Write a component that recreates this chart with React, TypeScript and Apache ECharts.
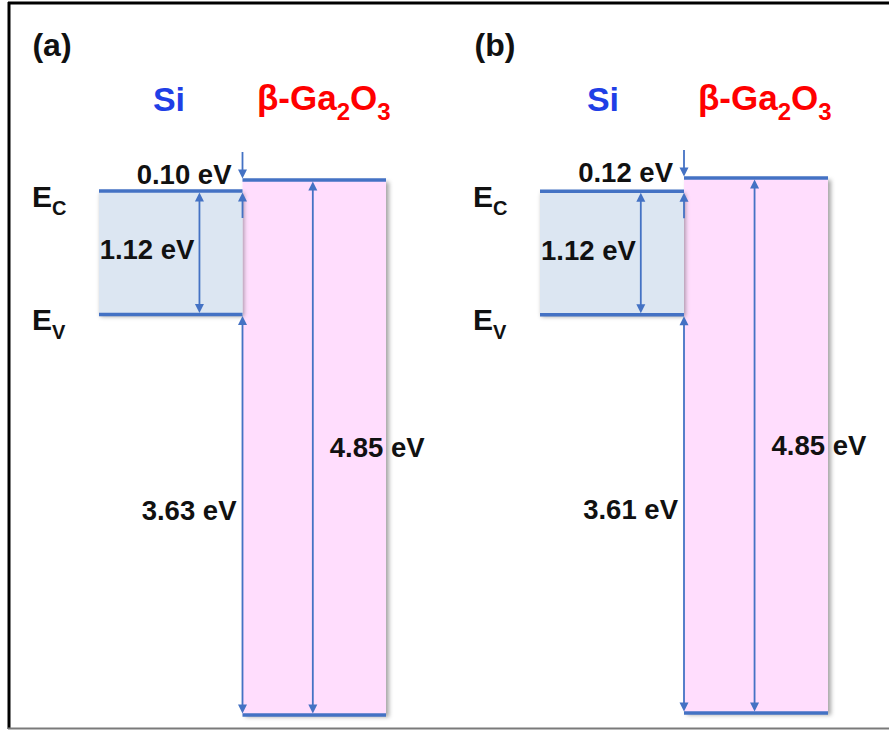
import React, { useEffect, useRef } from 'react';
import * as echarts from 'echarts';

// ---- data (eV) ----
const panelLabels = ['(a)', '(b)'];
const materialNames = ['Si', 'β-Ga2O3'];
const siBandGap = [1.12, 1.12];
const ga2o3BandGap = [4.85, 4.85];
const conductionOffset = [0.1, 0.12];
const valenceOffset = [3.63, 3.61];

// ---- layout (pixels) ----
const FONT = "'Liberation Sans', Arial, Helvetica, sans-serif";
const BLUE_LINE = '#4472C4';
const FILLS = ['#DCE6F2', '#FFDDFD'];
const GRID_H = 573.6;
const Y_MIN = -4.9;
const Y_MAX = 0.3;
const LAYOUT = [
  { left: 99, width: 287, top: 146.9, tagX: 52, siX: 169, gaX: 257 },
  { left: 540, width: 288, top: 144.9, tagX: 495, siX: 603, gaX: 698 },
];
const X_SI_GAP = 0.7;
const X_INTERFACE = 1;
const X_GA_GAP = 1.49;
const LABEL_SIZE = 27.5;

const fmt = (v: number) => `${v.toFixed(2)} eV`;

function arrowHead(tx: number, ty: number, dir: number) {
  // dir: +1 pointing down, -1 pointing up
  return {
    type: 'polygon',
    shape: { points: [[tx, ty], [tx - 4.5, ty - dir * 9], [tx + 4.5, ty - dir * 9]] },
    style: { fill: BLUE_LINE },
  };
}

function labelText(text: string, x: number, y: number, align: string) {
  return {
    type: 'text',
    style: {
      text,
      x,
      y,
      align,
      verticalAlign: 'middle',
      fontSize: LABEL_SIZE,
      fontWeight: 'bold',
      fontFamily: FONT,
      fill: '#111111',
    },
  };
}

function buildPanelSeries(p: number) {
  const siEc = -conductionOffset[p];
  const siEv = siEc - siBandGap[p];
  const gaEc = 0;
  const gaEv = -ga2o3BandGap[p];

  const boxes = [
    [1, 2, gaEc, gaEv, 1],
    [0, 1, siEc, siEv, 0],
  ];

  const boxSeries = {
    type: 'custom',
    xAxisIndex: p,
    yAxisIndex: p,
    data: boxes,
    silent: true,
    renderItem: (params: any, api: any) => {
      const [x0, y0] = api.coord([api.value(0), api.value(2)]);
      const [x1, y1] = api.coord([api.value(1), api.value(3)]);
      const mat = api.value(4);
      const children: any[] = [
        {
          type: 'rect',
          shape: { x: x0, y: y0, width: x1 - x0, height: y1 - y0 },
          style: {
            fill: FILLS[mat],
            shadowBlur: 4,
            shadowOffsetX: mat === 1 ? 3 : 1.5,
            shadowOffsetY: 2,
            shadowColor: 'rgba(0,0,0,0.35)',
          },
        },
        { type: 'line', shape: { x1: x0, y1: y0, x2: x1, y2: y0 }, style: { stroke: BLUE_LINE, lineWidth: 3.5 } },
        { type: 'line', shape: { x1: x0, y1: y1, x2: x1, y2: y1 }, style: { stroke: BLUE_LINE, lineWidth: 3.5 } },
      ];
      if (mat === 0) {
        const rich = {
          m: { fontSize: 30, fontWeight: 'bold', fontFamily: FONT, fill: '#111111', lineHeight: 32, verticalAlign: 'top' },
          s: { fontSize: 20, fontWeight: 'bold', fontFamily: FONT, fill: '#111111', lineHeight: 20, padding: [17, 0, 0, 0], verticalAlign: 'top' },
        };
        children.push({
          type: 'text',
          style: { text: '{m|E}{s|C}', rich, x: x0 - 67, y: y0 - 10, align: 'left', verticalAlign: 'top' },
        });
        children.push({
          type: 'text',
          style: { text: '{m|E}{s|V}', rich, x: x0 - 67, y: y1 - 10, align: 'left', verticalAlign: 'top' },
        });
      }
      return { type: 'group', children };
    },
  };

  const arrows = [
    { value: [X_SI_GAP, siEc, siEv], v: siBandGap[p], kind: 'gapLeft' },
    { value: [X_INTERFACE, siEv, gaEv], v: valenceOffset[p], kind: 'offsetV' },
    { value: [X_GA_GAP, gaEc, gaEv], v: ga2o3BandGap[p], kind: 'gapRight' },
    { value: [X_INTERFACE, gaEc, siEc], v: conductionOffset[p], kind: 'offsetC' },
  ];

  const arrowSeries = {
    type: 'custom',
    xAxisIndex: p,
    yAxisIndex: p,
    silent: true,
    data: arrows.map((a) => a.value),
    renderItem: (params: any, api: any) => {
      const spec = arrows[params.dataIndex];
      const [px, yA] = api.coord([api.value(0), api.value(1)]);
      const [, yB] = api.coord([api.value(0), api.value(2)]);
      const children: any[] = [];
      const lineStyle = { stroke: BLUE_LINE, lineWidth: 1.8 };
      if (spec.kind === 'offsetC') {
        const tipTop = yA - 1.5;
        children.push({ type: 'line', shape: { x1: px, y1: yA - 28, x2: px, y2: tipTop - 8 }, style: lineStyle });
        children.push(arrowHead(px, tipTop, 1));
        const tipBot = yB + 1.5;
        children.push({ type: 'line', shape: { x1: px, y1: yB + 27, x2: px, y2: tipBot + 8 }, style: lineStyle });
        children.push(arrowHead(px, tipBot, -1));
        children.push(labelText(fmt(spec.v), px - 11, yA - 5, 'right'));
      } else {
        const top = yA + 1.5;
        const bot = yB - 1.5;
        children.push({ type: 'line', shape: { x1: px, y1: top + 8, x2: px, y2: bot - 8 }, style: lineStyle });
        children.push(arrowHead(px, top, -1));
        children.push(arrowHead(px, bot, 1));
        const mid = (yA + yB) / 2;
        if (spec.kind === 'gapLeft') children.push(labelText(fmt(spec.v), px - 5, mid - 3, 'right'));
        else if (spec.kind === 'offsetV') children.push(labelText(fmt(spec.v), px - 6, mid - 4, 'right'));
        else children.push(labelText(fmt(spec.v), px + 17, mid, 'left'));
      }
      return { type: 'group', children };
    },
  };

  return [boxSeries, arrowSeries];
}

function buildGraphic() {
  const els: any[] = [
    { type: 'line', shape: { x1: 8, y1: 3, x2: 889, y2: 3 }, style: { stroke: '#000000', lineWidth: 3 } },
    { type: 'line', shape: { x1: 9, y1: 2, x2: 9, y2: 729 }, style: { stroke: '#000000', lineWidth: 3 } },
    { type: 'line', shape: { x1: 8, y1: 728.5, x2: 889, y2: 728.5 }, style: { stroke: '#7a7a7a', lineWidth: 2 } },
  ];
  LAYOUT.forEach((l, p) => {
    els.push({
      type: 'text',
      x: l.tagX,
      y: 45,
      style: {
        text: panelLabels[p],
        fontSize: 32,
        fontWeight: 'bold',
        fontFamily: FONT,
        fill: '#111111',
        align: 'center',
        verticalAlign: 'middle',
      },
    });
    els.push({
      type: 'text',
      x: l.siX,
      y: 99,
      style: {
        text: materialNames[0],
        fontSize: 34,
        fontWeight: 'bold',
        fontFamily: FONT,
        fill: '#1F3FE6',
        align: 'center',
        verticalAlign: 'middle',
      },
    });
    const parts = materialNames[1].split(/(\d)/).filter((s) => s.length);
    const richText = parts.map((s) => (/^\d$/.test(s) ? `{s|${s}}` : `{b|${s}}`)).join('');
    els.push({
      type: 'text',
      x: l.gaX,
      y: 80,
      style: {
        text: richText,
        align: 'left',
        verticalAlign: 'top',
        rich: {
          b: { fontSize: 35, fontWeight: 'bold', fontFamily: FONT, fill: '#FF0000', lineHeight: 38, verticalAlign: 'top' },
          s: { fontSize: 24, fontWeight: 'bold', fontFamily: FONT, fill: '#FF0000', lineHeight: 24, padding: [19, 0, 0, 0], verticalAlign: 'top' },
        },
      },
    });
  });
  return els;
}

export default function App() {
  const ref = useRef<HTMLDivElement>(null);
  useEffect(() => {
    if (!ref.current) return;
    const chart = echarts.init(ref.current, undefined, { renderer: 'svg' });
    const option: any = {
      animation: false,
      backgroundColor: '#ffffff',
      grid: LAYOUT.map((l) => ({ left: l.left, top: l.top, width: l.width, height: GRID_H })),
      xAxis: LAYOUT.map((_, i) => ({ type: 'value', gridIndex: i, min: 0, max: 2, show: false })),
      yAxis: LAYOUT.map((_, i) => ({ type: 'value', gridIndex: i, min: Y_MIN, max: Y_MAX, show: false })),
      series: [...buildPanelSeries(0), ...buildPanelSeries(1)],
      graphic: buildGraphic(),
    };
    chart.setOption(option);
    return () => chart.dispose();
  }, []);
  return (
    <div
      ref={ref}
      style={{ position: 'fixed', left: 0, top: 0, width: 889, height: 731, background: '#fff' }}
    />
  );
}
